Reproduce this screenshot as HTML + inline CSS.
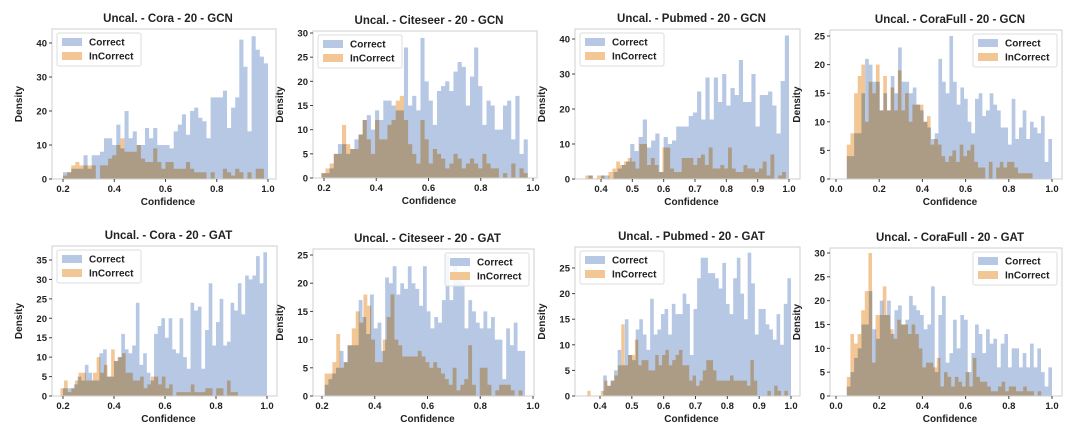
<!DOCTYPE html>
<html><head><meta charset="utf-8"><style>
html,body{margin:0;padding:0;background:#fff;}
svg{display:block;font-family:"Liberation Sans","DejaVu Sans",sans-serif;}
.t{font-weight:bold;fill:#222;}
</style></head><body>
<svg id="chart" width="1080" height="440" viewBox="0 0 1080 440"></svg>
<script>
// ---- data (bin values) ----
const titles = ["Uncal. - Cora - 20 - GCN","Uncal. - Citeseer - 20 - GCN","Uncal. - Pubmed - 20 - GCN","Uncal. - CoraFull - 20 - GCN","Uncal. - Cora - 20 - GAT","Uncal. - Citeseer - 20 - GAT","Uncal. - Pubmed - 20 - GAT","Uncal. - CoraFull - 20 - GAT"];
const correctRanges = [[0.2,1.0],[0.19,0.98],[0.36,1.0],[0.05,1.0],[0.2,1.0],[0.21,0.97],[0.41,1.0],[0.05,1.0]];
const incorrectRanges = [[0.2,1.0],[0.19,0.98],[0.35,0.99],[0.05,0.91],[0.19,0.9],[0.21,0.96],[0.36,0.99],[0.05,0.95]];
const coraGcnCorrect = [2,2,3,3,3,7,3,7,7,8,12,12,10,16,9,20,12,14,10,10,15,12,15,10,10,10,9,14,16,19,13,20,21,18,17,12,24,24,24,26,15,21,24,41,33,14,42,38,36,34];
const coraGcnIncorrect = [1,2,4,5,4,4,4,4,0,4,4,6,7,10,12,8,8,8,10,6,5,5,9,5,3,5,5,3,3,3,5,3,2,2,2,0,2,0,0,3,2,1,3,2,0,2,0,3,3,0];
const citeGcnCorrect = [1,1,2,5,7,7,5,6,8,9,12,13,10,14,12,16,16,15,14,14,27,15,17,14,29,20,16,11,18,19,20,18,22,24,23,15,21,27,19,11,16,15,10,10,15,16,8,17,5,8];
const citeGcnIncorrect = [1,2,3,5,5,11,7,6,6,9,12,8,5,12,8,8,11,12,16,17,12,7,5,3,12,8,3,6,5,4,2,3,5,4,2,3,4,3,2,5,3,2,2,0,1,0,3,0,2,1];
const pubGcnCorrect = [1,0,0,1,1,0,2,3,4,5,10,8,12,17,9,11,13,2,12,10,11,15,15,15,18,19,25,17,29,17,29,22,30,21,26,24,34,22,22,30,15,24,24,25,21,13,28,41];
const pubGcnIncorrect = [1,1,0,1,1,0,2,3,5,4,5,6,5,3,10,10,4,6,4,2,9,9,3,2,2,6,6,6,4,6,7,4,9,3,3,4,3,9,3,2,2,4,3,3,2,3,5,1,7,0,1,2];
const cfGcnCorrect = [4,4,8,8,15,21,20,17,17,12,15,12,18,15,23,17,17,15,16,13,12,10,9,7,8,21,17,15,25,17,13,16,14,10,8,14,15,11,12,15,13,12,9,9,6,14,7,9,12,7,10,9,8,11,3,7];
const cfGcnIncorrect = [6,8,15,18,20,10,17,15,20,12,18,12,16,12,19,12,15,10,13,13,13,10,11,6,7,6,4,3,4,5,3,6,4,5,6,3,2,2,0,3,0,2,3,2,3,3,2,1,1,1,1];
const coraGatCorrect = [2,2,2,3,5,4,8,6,4,4,11,12,5,5,9,10,16,12,11,13,24,8,11,6,4,16,18,20,15,20,12,11,20,10,7,24,22,23,7,17,29,13,19,25,13,14,24,22,29,21,31,30,31,36,29,37];
const coraGatIncorrect = [2,4,1,2,4,6,6,4,4,6,10,6,8,5,12,9,10,11,6,6,4,4,5,2,3,5,5,3,5,2,3,0,1,1,1,1,3,1,1,1,2,2,0,2,2,0,4,1,1,0];
const citeGatCorrect = [2,3,4,5,8,6,9,9,9,17,14,11,18,12,13,8,21,20,23,18,20,19,23,20,19,16,23,15,12,14,13,17,25,17,24,21,20,12,17,15,13,12,15,12,14,10,10,3,12,9,13,8,8];
const citeGatIncorrect = [4,4,6,11,5,6,9,12,15,13,18,16,10,6,6,10,14,18,10,9,7,7,7,7,8,7,6,5,6,5,4,3,2,5,1,2,3,9,2,0,5,5,2,0,1,2,2,2,1,0,1];
const pubGatCorrect = [4,2,3,5,9,6,15,8,7,13,15,12,9,19,12,13,16,17,12,18,16,16,20,18,8,17,23,27,27,24,24,23,21,26,18,16,23,27,20,15,28,22,12,17,17,14,13,11,16,10,18,23];
const pubGatIncorrect = [1,0,0,0,1,3,2,3,4,6,14,6,8,8,11,6,7,7,5,5,8,6,8,9,6,7,8,9,6,6,3,4,2,3,5,7,7,5,3,3,3,3,4,3,3,3,3,2,7,3,0,0,0,1,0,2,1,0,1];
const cfGatCorrect = [2,5,8,10,15,15,22,14,12,20,17,20,13,18,19,15,16,21,19,18,17,14,15,23,5,17,21,7,9,16,10,17,16,5,9,15,13,9,14,11,12,6,11,13,6,10,10,6,9,6,11,6,10,5,2,6];
const cfGatIncorrect = [4,13,11,13,18,22,30,7,17,17,23,17,14,12,16,15,15,13,15,13,10,6,7,7,6,8,2,5,4,2,4,3,2,5,2,8,4,3,3,2,1,1,2,3,1,2,2,1,1,2,1,1,0,1];
const correctSeries = [coraGcnCorrect,citeGcnCorrect,pubGcnCorrect,cfGcnCorrect,coraGatCorrect,citeGatCorrect,pubGatCorrect,cfGatCorrect];
const incorrectSeries = [coraGcnIncorrect,citeGcnIncorrect,pubGcnIncorrect,cfGcnIncorrect,coraGatIncorrect,citeGatIncorrect,pubGatIncorrect,cfGatIncorrect];
const yTickMax = [40,30,40,25,35,25,25,30];
const yTickStep = [10,5,10,5,5,5,5,5];
const xTickLabels = [["0.2","0.4","0.6","0.8","1.0"],["0.2","0.4","0.6","0.8","1.0"],["0.4","0.5","0.6","0.7","0.8","0.9","1.0"],["0.0","0.2","0.4","0.6","0.8","1.0"],["0.2","0.4","0.6","0.8","1.0"],["0.2","0.4","0.6","0.8","1.0"],["0.4","0.5","0.6","0.7","0.8","0.9","1.0"],["0.0","0.2","0.4","0.6","0.8","1.0"]];

// ---- layout (pixel geometry) ----
const layout = [
 {box:[52,276,29,179], xa:[0.2,63,1.0,268], ya:[0,179,40,43], leg:"left"},
 {box:[313,537,31,178], xa:[0.2,324,1.0,533], ya:[0,178,30,33], leg:"left"},
 {box:[575,800,29,179], xa:[0.4,601,1.0,789], ya:[0,179,40,39], leg:"left"},
 {box:[830,1062,30,179], xa:[0,836,1.0,1052], ya:[0,179,25,36], leg:"right"},
 {box:[52,277,246,396], xa:[0.2,63,1.0,267], ya:[0,396,35,260], leg:"left"},
 {box:[313,534,249,396], xa:[0.2,322,1.0,533], ya:[0,396,25,255], leg:"right"},
 {box:[575,800,247,396], xa:[0.4,600,1.0,791], ya:[0,396,25,268], leg:"left"},
 {box:[830,1062,248,396], xa:[0,836,1.0,1052], ya:[0,396,30,253], leg:"right"}
];
const NS="http://www.w3.org/2000/svg";
const svg=document.getElementById('chart');
function mk(tag,attrs,parent){const e=document.createElementNS(NS,tag);for(const k in attrs)e.setAttribute(k,attrs[k]);(parent||svg).appendChild(e);return e;}

layout.forEach((L,i)=>{
  const g=mk('g',{});
  
  
  const [bl,br,bt,bb]=L.box;
  const xs=v=>L.xa[1]+(v-L.xa[0])*(L.xa[3]-L.xa[1])/(L.xa[2]-L.xa[0]);
  const ys=v=>L.ya[1]+(v-L.ya[0])*(L.ya[3]-L.ya[1])/(L.ya[2]-L.ya[0]);
  function drawHist(vals,range,color,name,blend){
    const w=(range[1]-range[0])/vals.length;
    let d='M'+xs(range[0]).toFixed(2)+','+ys(0).toFixed(2);
    vals.forEach((v,k)=>{
      const x0=xs(range[0]+k*w),x1=xs(range[0]+(k+1)*w),y=ys(Math.max(0,v));
      d+=' L'+x0.toFixed(2)+','+y.toFixed(2)+' L'+x1.toFixed(2)+','+y.toFixed(2);
    });
    d+=' L'+xs(range[1]).toFixed(2)+','+ys(0).toFixed(2)+' Z';
    const p=mk('path',{d:d,fill:color},g);
    if(blend)p.style.mixBlendMode='multiply';
    
    
  }
  drawHist(correctSeries[i],correctRanges[i],'#b6c8e4','correct');
  drawHist(incorrectSeries[i],incorrectRanges[i],'#f3c795','incorrect',true);
  const fr=mk('rect',{x:bl,y:bt,width:br-bl,height:bb-bt,fill:'none',stroke:'#cfcfcf','stroke-width':1},g);
  
  
  for(let v=0;v<=yTickMax[i];v+=yTickStep[i]){
    const y=ys(v);
    mk('line',{x1:bl-3,x2:bl,y1:y,y2:y,stroke:'#444'},g);
    const t=mk('text',{x:bl-5,y:y+3.5,'text-anchor':'end','font-size':9.5,class:'t'},g);
    t.textContent=v;
    
    
  }
  xTickLabels[i].forEach(s=>{
    const x=xs(parseFloat(s));
    mk('line',{x1:x,x2:x,y1:bb,y2:bb+3,stroke:'#444'},g);
    const t=mk('text',{x:x,y:bb+13,'text-anchor':'middle','font-size':9.5,class:'t'},g);
    t.textContent=s;
    
    
  });
  const tt=mk('text',{x:(bl+br)/2+4,y:bt-7,'text-anchor':'middle','font-size':11.5,class:'t'},g);
  tt.textContent=titles[i];
  
  
  const xl=mk('text',{x:(bl+br)/2+4,y:bb+26,'text-anchor':'middle','font-size':10,class:'t'},g);
  xl.textContent='Confidence';
  
  
  const yx=bl-30, yy=(bt+bb)/2;
  const yl=mk('text',{x:yx,y:yy,'text-anchor':'middle','font-size':10,class:'t',transform:`rotate(-90 ${yx} ${yy})`},g);
  yl.textContent='Density';
  
  
  const lw=84,lh=33;
  const lx=L.leg==='left'?bl+5:br-lw-5, ly=bt+4;
  const lg=mk('g',{},g);
  
  
  mk('rect',{x:lx,y:ly,width:lw,height:lh,fill:'#fff','fill-opacity':0.85,stroke:'#ddd',rx:2},lg);
  [['Correct','#b6c8e4'],['InCorrect','#f3c795']].forEach((e,k)=>{
    const sw=mk('rect',{x:lx+5,y:ly+5+k*14,width:20,height:8,fill:e[1]},lg);
    
    
    const t=mk('text',{x:lx+32,y:ly+12.5+k*14,'font-size':10,class:'t'},lg);
    t.textContent=e[0];
    
    
  });
});
</script>
</body></html>
